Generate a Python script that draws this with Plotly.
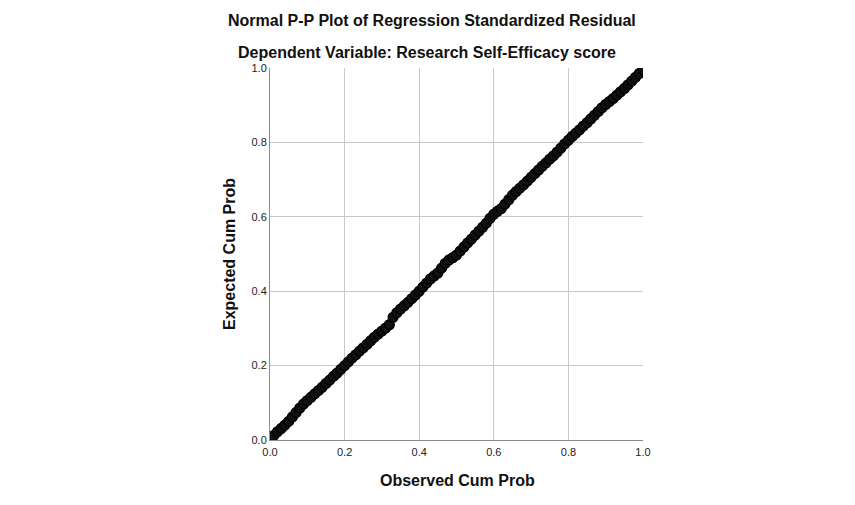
import plotly.graph_objects as go

observed_cum_prob = [
    0.00, 0.01, 0.02, 0.03, 0.04, 0.05, 0.06, 0.07, 0.08, 0.09,
    0.10, 0.11, 0.12, 0.13, 0.14, 0.15, 0.16, 0.17, 0.18, 0.19,
    0.20, 0.21, 0.22, 0.23, 0.24, 0.25, 0.26, 0.27, 0.28, 0.29,
    0.30, 0.31, 0.32, 0.33, 0.34, 0.35, 0.36, 0.37, 0.38, 0.39,
    0.40, 0.41, 0.42, 0.43, 0.44, 0.45, 0.46, 0.47, 0.48, 0.49,
    0.50, 0.51, 0.52, 0.53, 0.54, 0.55, 0.56, 0.57, 0.58, 0.59,
    0.60, 0.61, 0.62, 0.63, 0.64, 0.65, 0.66, 0.67, 0.68, 0.69,
    0.70, 0.71, 0.72, 0.73, 0.74, 0.75, 0.76, 0.77, 0.78, 0.79,
    0.80, 0.81, 0.82, 0.83, 0.84, 0.85, 0.86, 0.87, 0.88, 0.89,
    0.90, 0.91, 0.92, 0.93, 0.94, 0.95, 0.96, 0.97, 0.98, 0.99,
    1.00,
]

expected_cum_prob = [
    0.005, 0.012, 0.022, 0.031, 0.040, 0.050, 0.062, 0.074, 0.086, 0.097,
    0.106, 0.115, 0.124, 0.133, 0.142, 0.152, 0.161, 0.171, 0.180, 0.190,
    0.200, 0.210, 0.220, 0.229, 0.239, 0.248, 0.257, 0.267, 0.276, 0.285,
    0.293, 0.301, 0.310, 0.330, 0.342, 0.352, 0.361, 0.370, 0.380, 0.390,
    0.400, 0.411, 0.422, 0.433, 0.441, 0.449, 0.462, 0.475, 0.484, 0.490,
    0.497, 0.508, 0.519, 0.530, 0.540, 0.551, 0.561, 0.572, 0.583, 0.596,
    0.607, 0.615, 0.622, 0.634, 0.646, 0.658, 0.668, 0.677, 0.686, 0.696,
    0.706, 0.716, 0.726, 0.736, 0.745, 0.755, 0.764, 0.774, 0.785, 0.796,
    0.806, 0.816, 0.825, 0.834, 0.844, 0.853, 0.863, 0.873, 0.883, 0.893,
    0.902, 0.910, 0.918, 0.927, 0.936, 0.945, 0.955, 0.965, 0.975, 0.985,
    0.995,
]

tick_vals = [0.0, 0.2, 0.4, 0.6, 0.8, 1.0]
tick_text = ["0.0", "0.2", "0.4", "0.6", "0.8", "1.0"]

title_line1 = "Normal P-P Plot of Regression Standardized Residual"
title_line2 = "Dependent Variable: Research Self-Efficacy score"
x_title = "Observed Cum Prob"
y_title = "Expected Cum Prob"

FONT = "Liberation Sans, Arial, sans-serif"

fig = go.Figure()
fig.add_trace(go.Scatter(
    x=observed_cum_prob,
    y=expected_cum_prob,
    mode="markers",
    marker=dict(symbol="circle", size=10, color="#101010",
                line=dict(color="#000000", width=1.2)),
    showlegend=False,
    hoverinfo="x+y",
))

# page body has an 8px margin; work in figure-local pixels
OFF = 8
L, R, T, B = 270 - OFF, 643 - OFF, 68 - OFF, 440 - OFF
W, H = 855 - OFF, 505 - OFF

def px_to_paper_x(px):
    return (px - OFF - L) / (R - L)

def px_to_paper_y(py):
    return (B - (py - OFF)) / (B - T)

axis_common = dict(
    range=[0, 1],
    tickvals=tick_vals,
    ticktext=tick_text,
    showgrid=True,
    gridcolor="#c8c8c8",
    gridwidth=1,
    zeroline=False,
    showline=True,
    linecolor="#8c8c8c",
    linewidth=1,
    ticks="",
    tickfont=dict(family=FONT, size=11, color="#222222"),
    fixedrange=True,
)

fig.update_layout(
    width=W, height=H, autosize=False,
    margin=dict(l=L, r=W - R, t=T, b=H - B, pad=0),
    paper_bgcolor="white",
    plot_bgcolor="white",
    xaxis=dict(**axis_common, mirror=False, ticklabelstandoff=2),
    yaxis=dict(**axis_common, mirror=False),
    annotations=[
        dict(text="<b>" + title_line1 + "</b>", xref="paper", yref="paper",
             x=px_to_paper_x(432), y=px_to_paper_y(21), showarrow=False,
             xanchor="center", yanchor="middle",
             font=dict(family=FONT, size=16, color="#111111")),
        dict(text="<b>" + title_line2 + "</b>", xref="paper", yref="paper",
             x=px_to_paper_x(427), y=px_to_paper_y(52), showarrow=False,
             xanchor="center", yanchor="middle",
             font=dict(family=FONT, size=16, color="#111111")),
        dict(text="<b>" + x_title + "</b>", xref="paper", yref="paper",
             x=px_to_paper_x(457), y=px_to_paper_y(481), showarrow=False,
             xanchor="center", yanchor="middle",
             font=dict(family=FONT, size=16, color="#111111")),
        dict(text="<b>" + y_title + "</b>", xref="paper", yref="paper",
             x=px_to_paper_x(229), y=px_to_paper_y(254), showarrow=False,
             xanchor="center", yanchor="middle", textangle=-90,
             font=dict(family=FONT, size=16, color="#111111")),
    ],
)

fig.write_html("out.html")
